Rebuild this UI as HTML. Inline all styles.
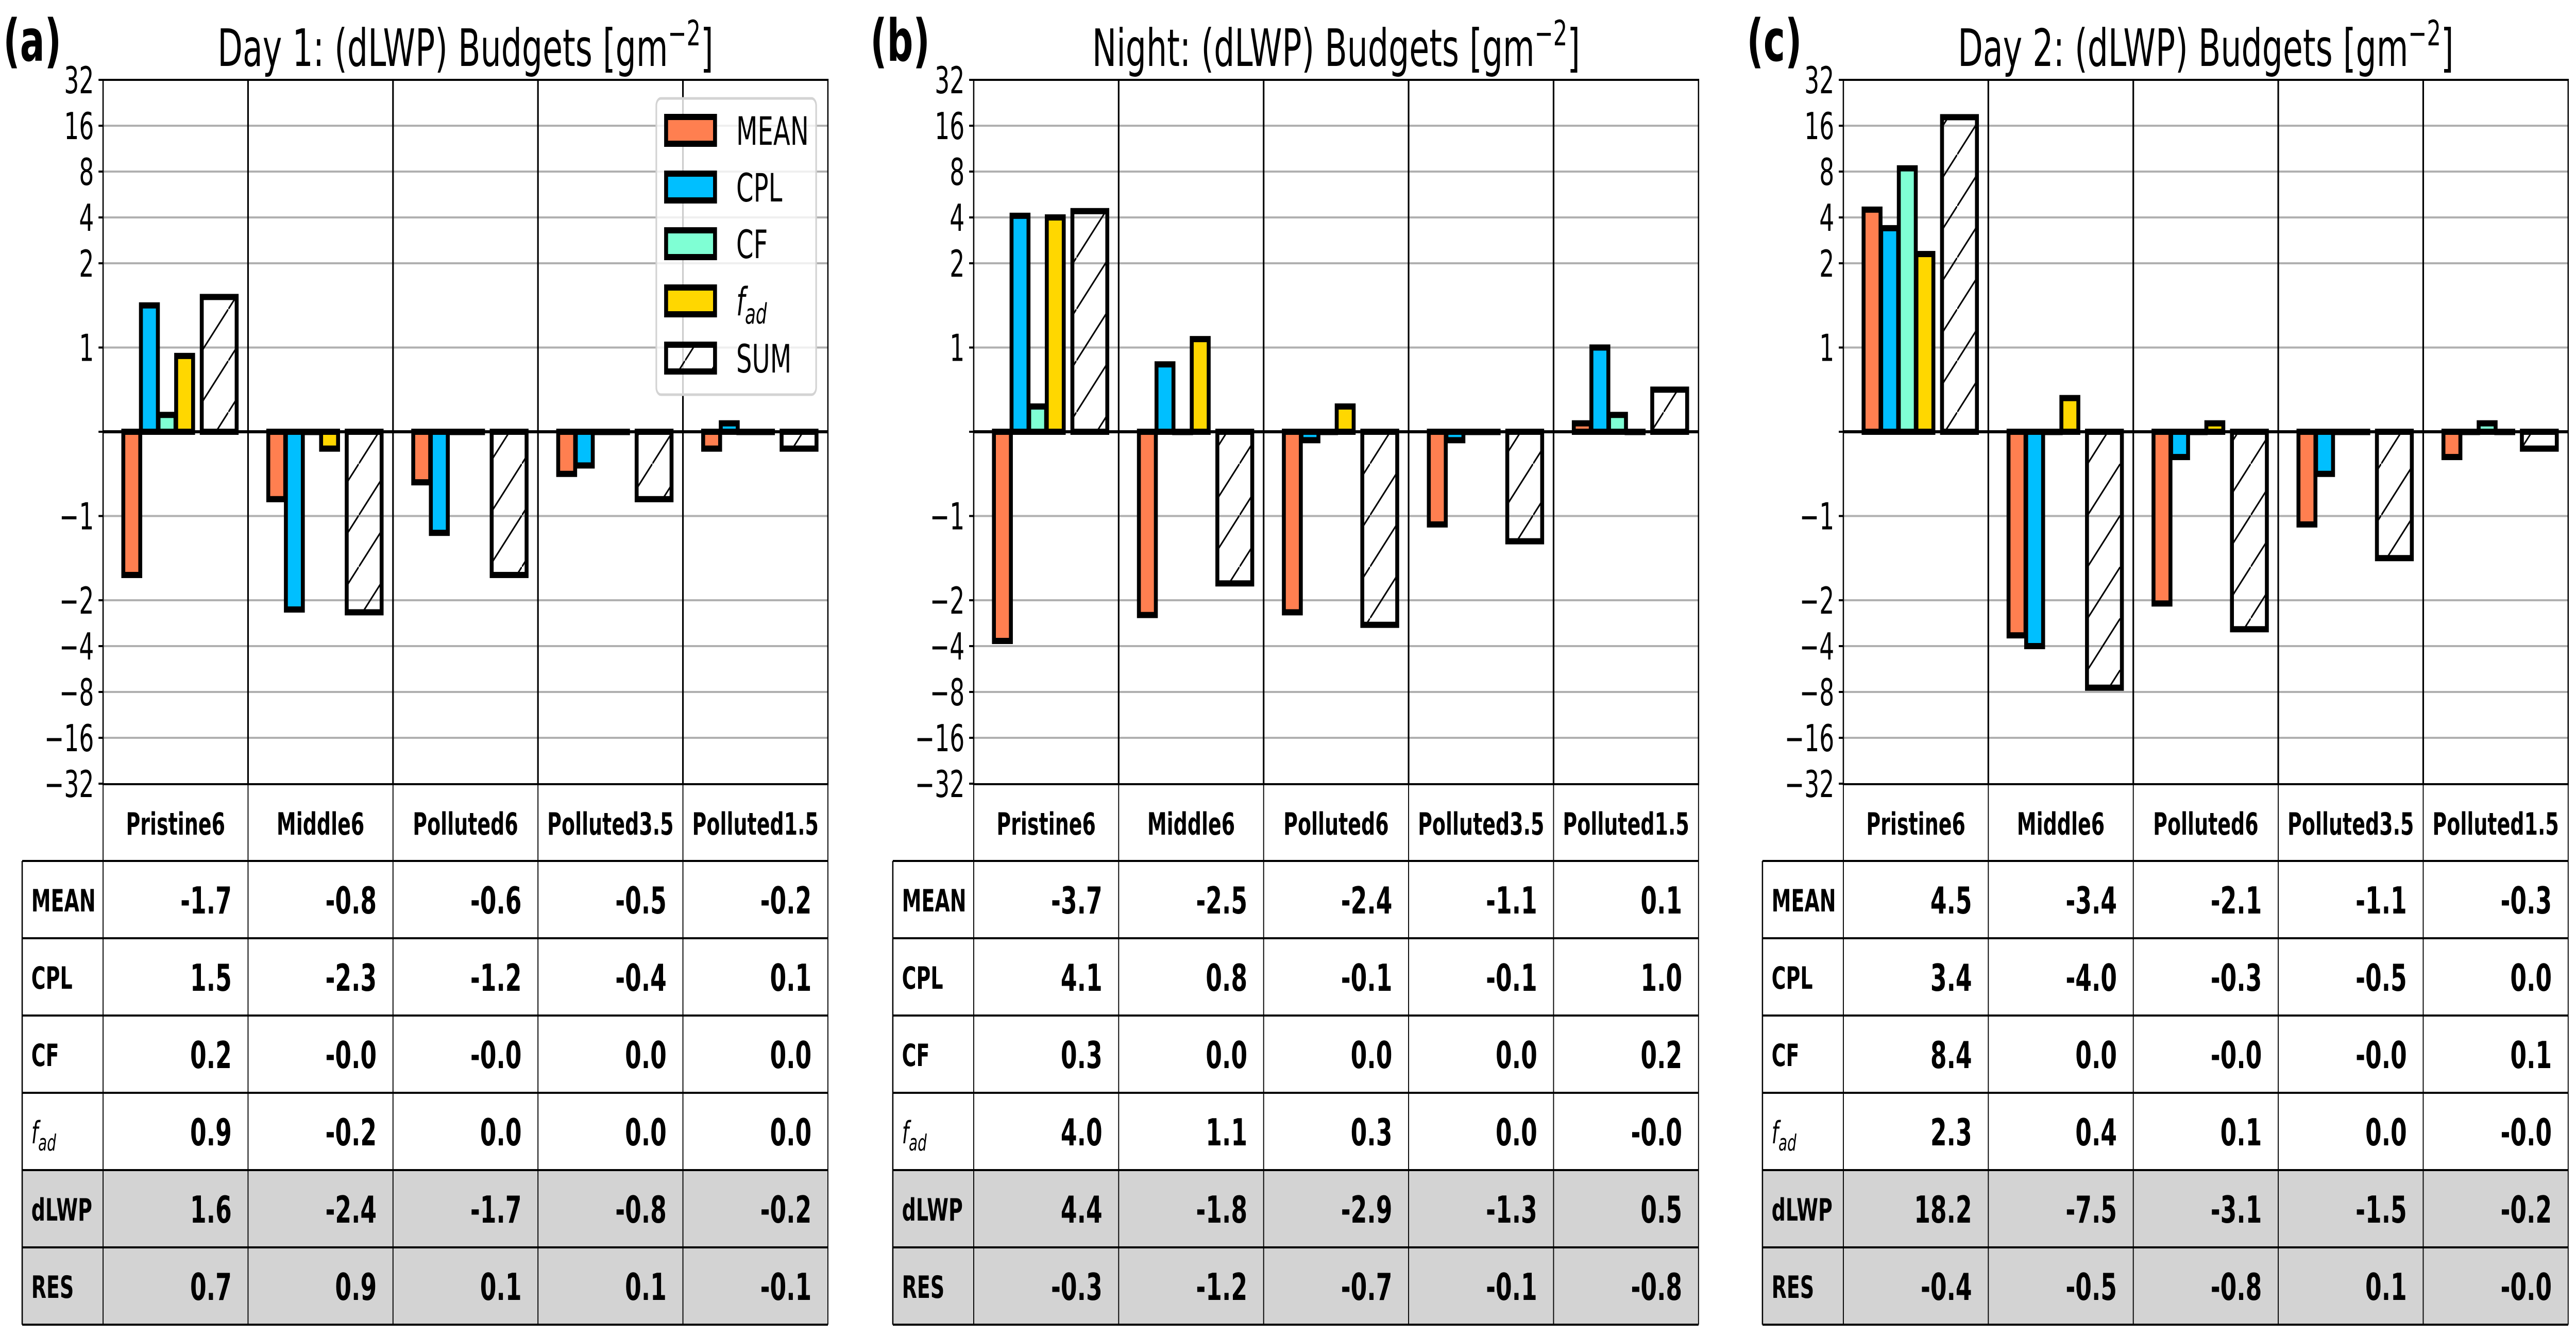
<!DOCTYPE html>
<html><head><meta charset="utf-8">
<style>
html,body{margin:0;padding:0;background:#fff;width:100%;height:100%;overflow:hidden;}
svg{display:block;width:100vw;height:100vh;font-family:"DejaVu Sans","Liberation Sans",sans-serif;}
</style></head>
<body>
<svg id="fig" xmlns="http://www.w3.org/2000/svg" width="100%" height="100%" viewBox="0 0 7897 2593" preserveAspectRatio="none">
<defs>
<pattern id="hatch" patternUnits="userSpaceOnUse" width="100" height="100">
<line x1="-10" y1="110" x2="110" y2="-10" stroke="#000" stroke-width="4"/>
</pattern>
</defs>
</svg>
<script>
// ---- data ----
const categories = ["Pristine6","Middle6","Polluted6","Polluted3.5","Polluted1.5"];
const seriesNames = ["MEAN","CPL","CF","fad","SUM"];
const tickValues = [32,16,8,4,2,1,0,-1,-2,-4,-8,-16,-32];
const tickLabels = ["32","16","8","4","2","1","","\u22121","\u22122","\u22124","\u22128","\u221216","\u221232"];
const panelTitles = ["Day 1: (dLWP) Budgets [gm","Night: (dLWP) Budgets [gm","Day 2: (dLWP) Budgets [gm"];
const panelLetters = ["(a)","(b)","(c)"];

const meanA = [-1.7,-0.8,-0.6,-0.5,-0.2];
const cplA  = [1.5,-2.3,-1.2,-0.4,0.1];
const cfA   = [0.2,-0.0,-0.0,0.0,0.0];
const fadA  = [0.9,-0.2,0.0,0.0,0.0];
const dlwpA = [1.6,-2.4,-1.7,-0.8,-0.2];
const resA  = [0.7,0.9,0.1,0.1,-0.1];

const meanB = [-3.7,-2.5,-2.4,-1.1,0.1];
const cplB  = [4.1,0.8,-0.1,-0.1,1.0];
const cfB   = [0.3,0.0,0.0,0.0,0.2];
const fadB  = [4.0,1.1,0.3,0.0,-0.0];
const dlwpB = [4.4,-1.8,-2.9,-1.3,0.5];
const resB  = [-0.3,-1.2,-0.7,-0.1,-0.8];

const meanC = [4.5,-3.4,-2.1,-1.1,-0.3];
const cplC  = [3.4,-4.0,-0.3,-0.5,0.0];
const cfC   = [8.4,0.0,-0.0,-0.0,0.1];
const fadC  = [2.3,0.4,0.1,0.0,-0.0];
const dlwpC = [18.2,-7.5,-3.1,-1.5,-0.2];
const resC  = [-0.4,-0.5,-0.8,0.1,-0.0];

const panels = [
  {mean:meanA,cpl:cplA,cf:cfA,fad:fadA,dlwp:dlwpA,res:resA},
  {mean:meanB,cpl:cplB,cf:cfB,fad:fadB,dlwp:dlwpB,res:resB},
  {mean:meanC,cpl:cplC,cf:cfC,fad:fadC,dlwp:dlwpC,res:resC}
];
const colors = ["#ff7f50","#00bfff","#7fffd4","#ffd700"];

// ---- layout ----
const NS = "http://www.w3.org/2000/svg";
const svg = document.getElementById("fig");
const axLefts = [316, 2985, 5651];
const letterX = [10, 2668, 5355];
const AXW = 2222, TOP = 155, BOT = 1522, ZERO = 838;
const LIN = 327, PER2 = 89;
function yScale(v){
  const a = Math.abs(v);
  const d = a <= 2 ? a/2*LIN : LIN + Math.log2(a/2)*PER2;
  return v >= 0 ? ZERO - d : ZERO + d;
}
function mk(tag, attrs, parent){
  const e = document.createElementNS(NS, tag);
  for (const k in attrs) e.setAttribute(k, attrs[k]);
  (parent||svg).appendChild(e);
  return e;
}
function fmt(v){
  return (v < 0 || Object.is(v,-0)) ? "-" + Math.abs(v).toFixed(1) : v.toFixed(1);
}
const barCenters = [88,142,196,250];
const BW = 52, SUMC = 356, SUMW = 107;

panels.forEach((p, pi) => {
  const L = axLefts[pi], R = L + AXW, GW = AXW/5;
  const g = mk("g", {});
  
  

  const lt = mk("text", {x:letterX[pi], y:118, "font-size":112, "font-weight":"bold"}, g);
  lt.textContent = panelLetters[pi];
  
  

  const tt = mk("text", {x:L+AXW/2, y:128, "font-size":100, "text-anchor":"middle"}, g);
  tt.textContent = panelTitles[pi];
  const sup = mk("tspan", {"font-size":68, dy:-40}, tt);
  sup.textContent = "\u22122";
  const cl = mk("tspan", {"font-size":100, dy:40}, tt);
  cl.textContent = "]";
  
  

  tickValues.forEach((tv, ti) => {
    const y = yScale(tv);
    if (tv !== 0 && Math.abs(tv) !== 32) {
      const gl = mk("line", {x1:L, x2:R, y1:y, y2:y, stroke:"#b0b0b0", "stroke-width":4}, g);
      
      
    }
    mk("line", {x1:L-14, x2:L, y1:y, y2:y, stroke:"#000", "stroke-width":4}, g);
    if (tickLabels[ti]) {
      const tl = mk("text", {x:L-28, y:y+26, "font-size":72, "text-anchor":"end"}, g);
      tl.textContent = tickLabels[ti];
      
      
    }
  });

  for (let i = 1; i < 5; i++) {
    const sx = L + GW*i;
    const sl = mk("line", {x1:sx, x2:sx, y1:TOP, y2:BOT, stroke:"#000", "stroke-width":5}, g);
    
    
  }

  const sers = [p.mean, p.cpl, p.cf, p.fad];
  categories.forEach((c, ci) => {
    const gx = L + GW*ci;
    sers.forEach((arr, si) => {
      const v = arr[ci], y = yScale(v);
      const b = mk("rect", {x:gx+barCenters[si]-BW/2, y:Math.min(y,ZERO), width:BW, height:Math.max(Math.abs(y-ZERO),0.5),
        fill:colors[si], stroke:"#000", "stroke-width":12}, g);
      
      
    });
    const v = p.dlwp[ci], y = yScale(v);
    const sb = mk("rect", {x:gx+SUMC-SUMW/2, y:Math.min(y,ZERO), width:SUMW, height:Math.max(Math.abs(y-ZERO),0.5),
      fill:"url(#hatch)", stroke:"#000", "stroke-width":12}, g);
    
    
  });

  mk("line", {x1:L, x2:R, y1:ZERO, y2:ZERO, stroke:"#000", "stroke-width":6}, g);
  const fr = mk("rect", {x:L, y:TOP, width:AXW, height:BOT-TOP, fill:"none", stroke:"#000", "stroke-width":4}, g);
  
  

  const TL = L - 248, HT = 1522, HB = 1671, RH = 150;
  const tg = mk("g", {}, g);
  
  
  mk("rect", {x:TL, y:HB+RH*4, width:R-TL, height:RH*2, fill:"#d3d3d3"}, tg);
  categories.forEach((c, ci) => {
    const hx = L + GW*ci + GW/2;
    const ht = mk("text", {x:hx, y:1620, "font-size":60, "font-weight":"bold", "text-anchor":"middle"}, tg);
    ht.textContent = c;
    
    
  });
  const rowNames = ["MEAN","CPL","CF","fad","dLWP","RES"];
  const rowVals = [p.mean, p.cpl, p.cf, p.fad, p.dlwp, p.res];
  rowNames.forEach((rn, ri) => {
    const ry = HB + RH*ri, ty = ry + RH/2 + 23;
    const lbl = mk("text", {x:TL+28, y:ty, "font-size":60, "font-weight":rn==="fad"?"normal":"bold"}, tg);
    if (rn === "fad") {
      lbl.setAttribute("font-style","italic");
      lbl.textContent = "f";
      const s = mk("tspan", {"font-size":44, dy:14}, lbl);
      s.textContent = "ad";
    } else lbl.textContent = rn;
    
    
    rowVals[ri].forEach((v, ci) => {
      const vt = mk("text", {x:L + GW*(ci+1) - 50, y:ty+4, "font-size":72, "font-weight":"bold", "text-anchor":"end"}, tg);
      vt.textContent = fmt(v);
      
      
    });
  });
  mk("line", {x1:L, x2:R, y1:HT, y2:HT, stroke:"#000", "stroke-width":4}, tg);
  for (let ri = 0; ri <= 6; ri++) {
    const y = HB + RH*ri;
    mk("line", {x1:TL, x2:R, y1:y, y2:y, stroke:"#000", "stroke-width":4}, tg);
  }
  mk("line", {x1:TL, x2:TL, y1:HB, y2:HB+RH*6, stroke:"#000", "stroke-width":4}, tg);
  for (let i = 0; i <= 5; i++) {
    const x = L + GW*i;
    mk("line", {x1:x, x2:x, y1:HT, y2:HB+RH*6, stroke:"#000", "stroke-width":3}, tg);
  }

  if (pi === 0) {
    const lg = mk("g", {}, g);
    
    
    mk("rect", {x:2012, y:191, width:490, height:575, rx:14, fill:"#fff", "fill-opacity":0.8, stroke:"#d3d3d3", "stroke-width":5}, lg);
    const rows = [253,363,473,584,695];
    seriesNames.forEach((sn, si) => {
      const ey = rows[si];
      const e = mk("g", {}, lg);
      
      
      mk("rect", {x:2042, y:ey-26, width:150, height:52, fill: si<4 ? colors[si] : "url(#hatch)", stroke:"#000", "stroke-width":12}, e);
      const t = mk("text", {x:2257, y:ey+28, "font-size":76}, e);
      if (sn === "fad") {
        t.setAttribute("font-style","italic");
        t.textContent = "f";
        const s = mk("tspan", {"font-size":54, dy:16}, t);
        s.textContent = "ad";
      } else t.textContent = sn;
    });
  }
});
</script>
</body></html>
